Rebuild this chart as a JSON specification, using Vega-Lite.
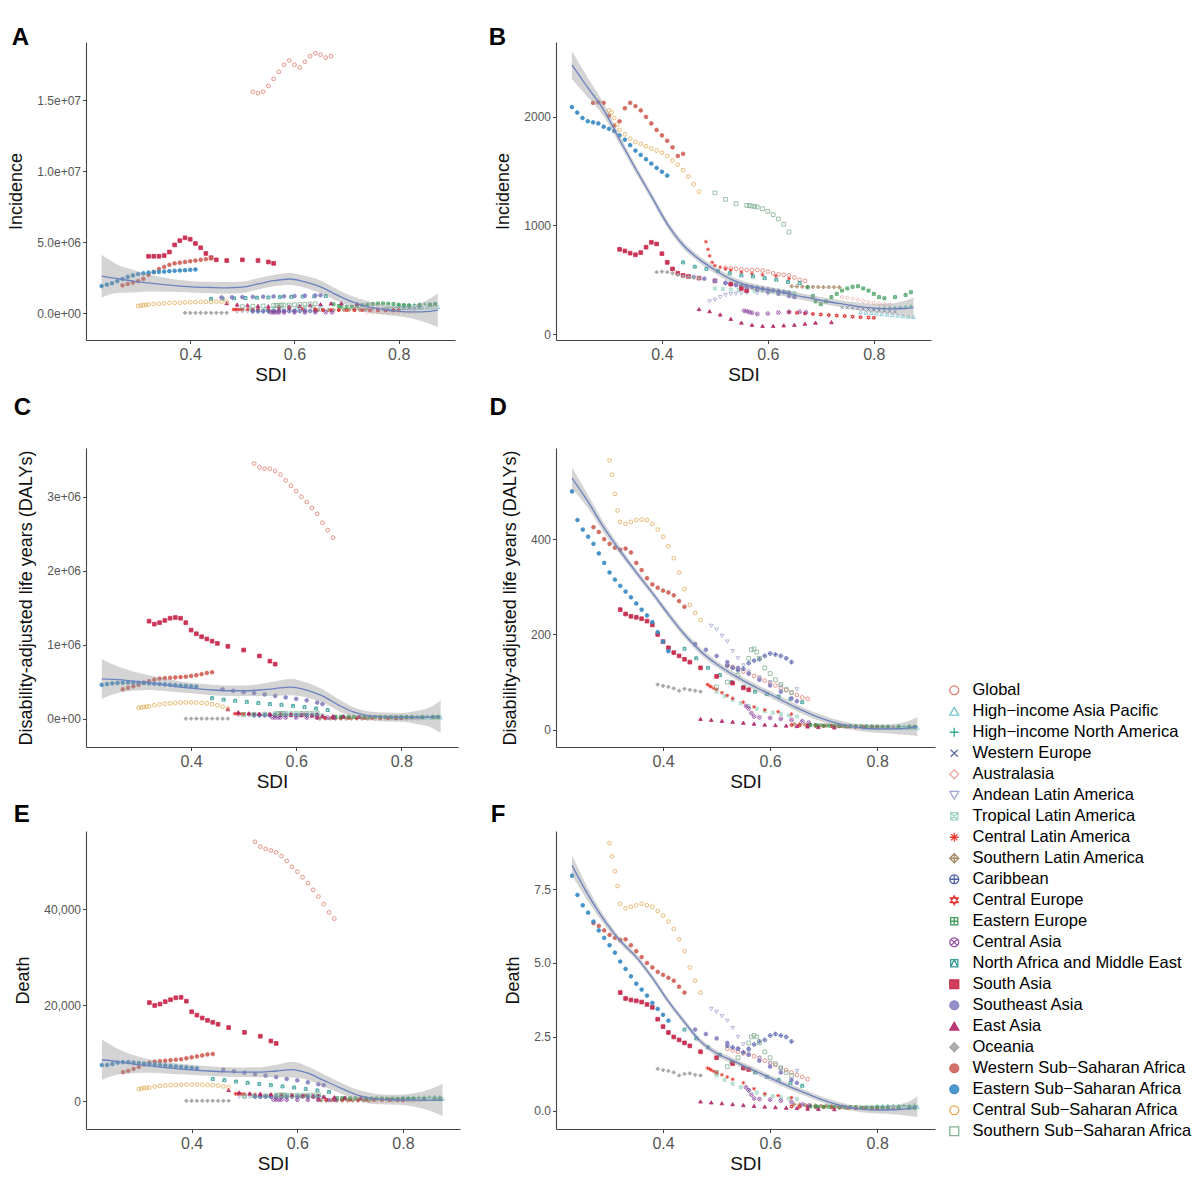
{
"$schema": "https://vega.github.io/schema/vega-lite/v6.json",
"padding": {"left": 7, "top": 26, "right": 5, "bottom": 1},
"background": "white",
"columns": 2,
"align": "each",
"spacing": {"row": 11, "column": 28},
"config": {
  "font": "Liberation Sans",
  "view": {"stroke": null},
  "axis": {"grid": false, "domainColor": "#444444", "domainWidth": 1.1, "tickColor": "#444444", "tickSize": 3.5, "labelColor": "#555555", "titleColor": "#111111", "titleFontWeight": "normal", "labelFont": "Liberation Sans", "titleFont": "Liberation Sans"},
  "axisX": {"labelFontSize": 16, "titlePadding": 3, "labelPadding": 3, "titleFontSize": 19},
  "axisY": {"labelFontSize": 12, "titlePadding": 11, "labelPadding": 2, "titleFontSize": 18},
  "title": {"fontSize": 24, "fontWeight": "bold", "anchor": "start", "frame": "bounds", "color": "#000000", "font": "Liberation Sans"},
  "legend": {"labelFontSize": 16.5, "symbolSize": 80, "symbolStrokeWidth": 1.3, "rowPadding": 4, "labelOffset": 10, "labelColor": "#000000", "labelLimit": 400}
},
"datasets": {
"pts": [
{"r":"Global","s":0.52,"A":15600000,"B":610,"C":3450000,"D":135,"E":54000,"F":2.1},
{"r":"Global","s":0.53,"A":15500000,"B":605,"C":3400000,"D":132,"E":53000,"F":2.05},
{"r":"Global","s":0.54,"A":15600000,"B":600,"C":3380000,"D":128,"E":52500,"F":2.0},
{"r":"Global","s":0.55,"A":16000000,"B":595,"C":3380000,"D":122,"E":52200,"F":1.95},
{"r":"Global","s":0.56,"A":16500000,"B":590,"C":3350000,"D":118,"E":51800,"F":1.9},
{"r":"Global","s":0.57,"A":17000000,"B":590,"C":3300000,"D":113,"E":51000,"F":1.85},
{"r":"Global","s":0.58,"A":17500000,"B":590,"C":3220000,"D":108,"E":50000,"F":1.78},
{"r":"Global","s":0.59,"A":17800000,"B":585,"C":3150000,"D":103,"E":48800,"F":1.7},
{"r":"Global","s":0.60,"A":17500000,"B":575,"C":3080000,"D":98,"E":47800,"F":1.62},
{"r":"Global","s":0.61,"A":17300000,"B":560,"C":3000000,"D":93,"E":46600,"F":1.55},
{"r":"Global","s":0.62,"A":17700000,"B":550,"C":2930000,"D":88,"E":45400,"F":1.45},
{"r":"Global","s":0.63,"A":18100000,"B":545,"C":2850000,"D":83,"E":44000,"F":1.38},
{"r":"Global","s":0.64,"A":18300000,"B":540,"C":2770000,"D":78,"E":42600,"F":1.3},
{"r":"Global","s":0.65,"A":18200000,"B":520,"C":2650000,"D":73,"E":41000,"F":1.22},
{"r":"Global","s":0.66,"A":18000000,"B":500,"C":2550000,"D":68,"E":39300,"F":1.15},
{"r":"Global","s":0.67,"A":18100000,"B":490,"C":2450000,"D":65,"E":38000,"F":1.08},
{"r":"High−income Asia Pacific","s":0.775,"A":330000,"B":200,"C":15000,"D":4.5,"E":250,"F":0.12},
{"r":"High−income Asia Pacific","s":0.785,"A":340000,"B":198,"C":15500,"D":4.4,"E":270,"F":0.12},
{"r":"High−income Asia Pacific","s":0.795,"A":350000,"B":195,"C":16000,"D":4.3,"E":290,"F":0.12},
{"r":"High−income Asia Pacific","s":0.805,"A":360000,"B":190,"C":16500,"D":4.2,"E":310,"F":0.12},
{"r":"High−income Asia Pacific","s":0.815,"A":370000,"B":185,"C":17000,"D":4.1,"E":330,"F":0.12},
{"r":"High−income Asia Pacific","s":0.825,"A":380000,"B":180,"C":17500,"D":4.0,"E":350,"F":0.12},
{"r":"High−income Asia Pacific","s":0.835,"A":390000,"B":175,"C":18000,"D":4.0,"E":370,"F":0.12},
{"r":"High−income Asia Pacific","s":0.845,"A":400000,"B":170,"C":18500,"D":4.1,"E":390,"F":0.13},
{"r":"High−income Asia Pacific","s":0.855,"A":410000,"B":165,"C":19000,"D":4.2,"E":410,"F":0.13},
{"r":"High−income Asia Pacific","s":0.865,"A":420000,"B":160,"C":19500,"D":4.3,"E":430,"F":0.14},
{"r":"High−income Asia Pacific","s":0.875,"A":430000,"B":158,"C":20000,"D":4.5,"E":450,"F":0.14},
{"r":"High−income North America","s":0.80,"A":550000,"B":230,"C":30000,"D":6,"E":700,"F":0.16},
{"r":"High−income North America","s":0.81,"A":570000,"B":235,"C":31000,"D":6.2,"E":720,"F":0.16},
{"r":"High−income North America","s":0.82,"A":580000,"B":238,"C":32000,"D":6.4,"E":740,"F":0.17},
{"r":"High−income North America","s":0.83,"A":600000,"B":240,"C":33000,"D":6.6,"E":760,"F":0.17},
{"r":"High−income North America","s":0.84,"A":620000,"B":242,"C":34000,"D":6.8,"E":780,"F":0.17},
{"r":"High−income North America","s":0.85,"A":630000,"B":245,"C":35000,"D":7,"E":800,"F":0.18},
{"r":"High−income North America","s":0.86,"A":640000,"B":250,"C":36000,"D":7.3,"E":830,"F":0.18},
{"r":"High−income North America","s":0.87,"A":650000,"B":255,"C":37000,"D":7.6,"E":860,"F":0.19},
{"r":"Western Europe","s":0.74,"A":300000,"B":245,"C":22000,"D":6.5,"E":450,"F":0.11},
{"r":"Western Europe","s":0.75,"A":305000,"B":242,"C":21500,"D":6.3,"E":440,"F":0.11},
{"r":"Western Europe","s":0.76,"A":310000,"B":238,"C":21000,"D":6.1,"E":430,"F":0.10},
{"r":"Western Europe","s":0.77,"A":315000,"B":234,"C":20500,"D":5.9,"E":420,"F":0.10},
{"r":"Western Europe","s":0.78,"A":320000,"B":230,"C":20000,"D":5.7,"E":410,"F":0.10},
{"r":"Western Europe","s":0.79,"A":325000,"B":226,"C":19500,"D":5.5,"E":400,"F":0.10},
{"r":"Western Europe","s":0.80,"A":330000,"B":222,"C":19000,"D":5.3,"E":390,"F":0.09},
{"r":"Western Europe","s":0.81,"A":335000,"B":218,"C":18500,"D":5.1,"E":380,"F":0.09},
{"r":"Western Europe","s":0.82,"A":340000,"B":214,"C":18000,"D":4.9,"E":370,"F":0.09},
{"r":"Western Europe","s":0.83,"A":345000,"B":210,"C":17500,"D":4.7,"E":360,"F":0.09},
{"r":"Western Europe","s":0.84,"A":350000,"B":206,"C":17000,"D":4.5,"E":350,"F":0.08},
{"r":"Australasia","s":0.74,"A":48000,"B":340,"C":2500,"D":6.5,"E":45,"F":0.10},
{"r":"Australasia","s":0.75,"A":49000,"B":335,"C":2480,"D":6.4,"E":45,"F":0.10},
{"r":"Australasia","s":0.76,"A":50000,"B":325,"C":2460,"D":6.3,"E":44,"F":0.10},
{"r":"Australasia","s":0.77,"A":51000,"B":315,"C":2440,"D":6.2,"E":44,"F":0.10},
{"r":"Australasia","s":0.78,"A":52000,"B":305,"C":2420,"D":6.1,"E":43,"F":0.10},
{"r":"Australasia","s":0.79,"A":53000,"B":295,"C":2400,"D":6.0,"E":43,"F":0.09},
{"r":"Australasia","s":0.80,"A":54000,"B":288,"C":2380,"D":5.9,"E":42,"F":0.09},
{"r":"Australasia","s":0.81,"A":55000,"B":280,"C":2360,"D":5.8,"E":42,"F":0.09},
{"r":"Australasia","s":0.82,"A":56000,"B":275,"C":2340,"D":5.7,"E":41,"F":0.09},
{"r":"Australasia","s":0.83,"A":57000,"B":270,"C":2320,"D":5.6,"E":41,"F":0.09},
{"r":"Andean Latin America","s":0.49,"A":100000,"B":300,"C":45000,"D":218,"E":900,"F":3.45},
{"r":"Andean Latin America","s":0.50,"A":105000,"B":315,"C":44500,"D":210,"E":880,"F":3.35},
{"r":"Andean Latin America","s":0.51,"A":110000,"B":340,"C":44000,"D":197,"E":860,"F":3.2},
{"r":"Andean Latin America","s":0.52,"A":115000,"B":360,"C":43000,"D":185,"E":840,"F":3.05},
{"r":"Andean Latin America","s":0.53,"A":120000,"B":368,"C":42000,"D":165,"E":820,"F":2.8},
{"r":"Andean Latin America","s":0.54,"A":125000,"B":372,"C":41000,"D":150,"E":800,"F":2.5},
{"r":"Andean Latin America","s":0.55,"A":130000,"B":374,"C":40000,"D":135,"E":780,"F":2.25},
{"r":"Andean Latin America","s":0.56,"A":135000,"B":375,"C":39000,"D":122,"E":760,"F":2.0},
{"r":"Andean Latin America","s":0.58,"A":145000,"B":375,"C":38000,"D":110,"E":740,"F":1.8},
{"r":"Andean Latin America","s":0.60,"A":155000,"B":372,"C":37000,"D":100,"E":720,"F":1.6},
{"r":"Andean Latin America","s":0.62,"A":165000,"B":368,"C":36000,"D":92,"E":700,"F":1.45},
{"r":"Andean Latin America","s":0.65,"A":180000,"B":360,"C":35000,"D":85,"E":680,"F":1.35},
{"r":"Tropical Latin America","s":0.50,"A":250000,"B":420,"C":60000,"D":80,"E":1100,"F":1.2},
{"r":"Tropical Latin America","s":0.515,"A":270000,"B":415,"C":58000,"D":71,"E":1080,"F":1.05},
{"r":"Tropical Latin America","s":0.53,"A":290000,"B":410,"C":56000,"D":63,"E":1060,"F":0.92},
{"r":"Tropical Latin America","s":0.545,"A":310000,"B":405,"C":55000,"D":56,"E":1040,"F":0.8},
{"r":"Tropical Latin America","s":0.56,"A":330000,"B":400,"C":54000,"D":50,"E":1020,"F":0.7},
{"r":"Tropical Latin America","s":0.575,"A":350000,"B":398,"C":53000,"D":44,"E":1000,"F":0.62},
{"r":"Tropical Latin America","s":0.59,"A":370000,"B":395,"C":52000,"D":39,"E":980,"F":0.55},
{"r":"Tropical Latin America","s":0.605,"A":390000,"B":392,"C":51000,"D":36,"E":960,"F":0.5},
{"r":"Tropical Latin America","s":0.62,"A":410000,"B":388,"C":50000,"D":33,"E":940,"F":0.46},
{"r":"Tropical Latin America","s":0.635,"A":430000,"B":384,"C":49000,"D":30,"E":920,"F":0.42},
{"r":"Tropical Latin America","s":0.65,"A":450000,"B":380,"C":48000,"D":28,"E":900,"F":0.4},
{"r":"Central Latin America","s":0.483,"A":250000,"B":850,"C":70000,"D":95,"E":1500,"F":1.45},
{"r":"Central Latin America","s":0.487,"A":252000,"B":780,"C":69500,"D":92,"E":1490,"F":1.42},
{"r":"Central Latin America","s":0.49,"A":254000,"B":720,"C":69000,"D":90,"E":1480,"F":1.38},
{"r":"Central Latin America","s":0.495,"A":256000,"B":660,"C":68500,"D":87,"E":1470,"F":1.34},
{"r":"Central Latin America","s":0.50,"A":258000,"B":630,"C":68000,"D":85,"E":1460,"F":1.3},
{"r":"Central Latin America","s":0.51,"A":260000,"B":615,"C":67000,"D":78,"E":1430,"F":1.22},
{"r":"Central Latin America","s":0.52,"A":262000,"B":600,"C":66000,"D":72,"E":1400,"F":1.15},
{"r":"Central Latin America","s":0.53,"A":264000,"B":590,"C":65000,"D":66,"E":1370,"F":1.07},
{"r":"Central Latin America","s":0.55,"A":268000,"B":570,"C":64000,"D":58,"E":1320,"F":0.95},
{"r":"Central Latin America","s":0.57,"A":272000,"B":555,"C":63000,"D":48,"E":1270,"F":0.75},
{"r":"Central Latin America","s":0.59,"A":276000,"B":545,"C":62000,"D":42,"E":1220,"F":0.58},
{"r":"Central Latin America","s":0.615,"A":280000,"B":535,"C":61000,"D":38,"E":1160,"F":0.52},
{"r":"Central Latin America","s":0.64,"A":285000,"B":510,"C":60000,"D":33,"E":1100,"F":0.45},
{"r":"Southern Latin America","s":0.645,"A":200000,"B":440,"C":5000,"D":12,"E":110,"F":0.22},
{"r":"Southern Latin America","s":0.655,"A":205000,"B":438,"C":5000,"D":11.5,"E":108,"F":0.21},
{"r":"Southern Latin America","s":0.665,"A":210000,"B":436,"C":4900,"D":11,"E":106,"F":0.2},
{"r":"Southern Latin America","s":0.675,"A":215000,"B":435,"C":4900,"D":10.5,"E":104,"F":0.19},
{"r":"Southern Latin America","s":0.685,"A":220000,"B":434,"C":4800,"D":10,"E":102,"F":0.18},
{"r":"Southern Latin America","s":0.695,"A":225000,"B":433,"C":4800,"D":9.5,"E":100,"F":0.17},
{"r":"Southern Latin America","s":0.705,"A":230000,"B":432,"C":4700,"D":9,"E":98,"F":0.17},
{"r":"Southern Latin America","s":0.715,"A":235000,"B":432,"C":4700,"D":8.7,"E":96,"F":0.16},
{"r":"Southern Latin America","s":0.725,"A":240000,"B":431,"C":4600,"D":8.4,"E":94,"F":0.16},
{"r":"Southern Latin America","s":0.735,"A":245000,"B":430,"C":4600,"D":8,"E":92,"F":0.15},
{"r":"Caribbean","s":0.52,"A":120000,"B":470,"C":50000,"D":135,"E":900,"F":2.2},
{"r":"Caribbean","s":0.53,"A":122000,"B":462,"C":50400,"D":130,"E":905,"F":2.15},
{"r":"Caribbean","s":0.54,"A":125000,"B":455,"C":50800,"D":125,"E":910,"F":2.1},
{"r":"Caribbean","s":0.55,"A":127000,"B":447,"C":51200,"D":128,"E":915,"F":1.98},
{"r":"Caribbean","s":0.56,"A":130000,"B":440,"C":51600,"D":140,"E":920,"F":2.1},
{"r":"Caribbean","s":0.57,"A":132000,"B":432,"C":52000,"D":145,"E":925,"F":2.25},
{"r":"Caribbean","s":0.58,"A":135000,"B":425,"C":52400,"D":148,"E":930,"F":2.35},
{"r":"Caribbean","s":0.59,"A":137000,"B":417,"C":52800,"D":155,"E":935,"F":2.4},
{"r":"Caribbean","s":0.60,"A":140000,"B":410,"C":53200,"D":160,"E":940,"F":2.55},
{"r":"Caribbean","s":0.61,"A":142000,"B":402,"C":53600,"D":158,"E":945,"F":2.6},
{"r":"Caribbean","s":0.62,"A":145000,"B":395,"C":54000,"D":155,"E":950,"F":2.55},
{"r":"Caribbean","s":0.63,"A":147000,"B":387,"C":54500,"D":150,"E":950,"F":2.5},
{"r":"Caribbean","s":0.64,"A":150000,"B":380,"C":55000,"D":142,"E":950,"F":2.35},
{"r":"Central Europe","s":0.64,"A":220000,"B":200,"C":15000,"D":10,"E":300,"F":0.15},
{"r":"Central Europe","s":0.655,"A":216000,"B":195,"C":14500,"D":9.5,"E":290,"F":0.145},
{"r":"Central Europe","s":0.67,"A":213000,"B":190,"C":14000,"D":9,"E":280,"F":0.14},
{"r":"Central Europe","s":0.685,"A":210000,"B":185,"C":13600,"D":8.6,"E":272,"F":0.135},
{"r":"Central Europe","s":0.70,"A":206000,"B":180,"C":13200,"D":8.2,"E":264,"F":0.13},
{"r":"Central Europe","s":0.715,"A":203000,"B":175,"C":12800,"D":7.8,"E":256,"F":0.12},
{"r":"Central Europe","s":0.73,"A":200000,"B":170,"C":12400,"D":7.3,"E":248,"F":0.11},
{"r":"Central Europe","s":0.745,"A":196000,"B":165,"C":12000,"D":6.8,"E":240,"F":0.1},
{"r":"Central Europe","s":0.76,"A":192000,"B":160,"C":11600,"D":6.3,"E":230,"F":0.095},
{"r":"Central Europe","s":0.775,"A":188000,"B":155,"C":11000,"D":5.8,"E":220,"F":0.09},
{"r":"Central Europe","s":0.79,"A":184000,"B":152,"C":10500,"D":5.3,"E":210,"F":0.085},
{"r":"Central Europe","s":0.80,"A":180000,"B":150,"C":10000,"D":5,"E":200,"F":0.08},
{"r":"Eastern Europe","s":0.675,"A":620000,"B":430,"C":30000,"D":10,"E":600,"F":0.15},
{"r":"Eastern Europe","s":0.685,"A":500000,"B":350,"C":29500,"D":9.5,"E":590,"F":0.15},
{"r":"Eastern Europe","s":0.69,"A":450000,"B":300,"C":29000,"D":9,"E":580,"F":0.14},
{"r":"Eastern Europe","s":0.70,"A":420000,"B":275,"C":28500,"D":8.8,"E":570,"F":0.14},
{"r":"Eastern Europe","s":0.71,"A":450000,"B":300,"C":28000,"D":8.8,"E":560,"F":0.14},
{"r":"Eastern Europe","s":0.72,"A":500000,"B":340,"C":27500,"D":8.6,"E":550,"F":0.14},
{"r":"Eastern Europe","s":0.73,"A":550000,"B":370,"C":27000,"D":8.4,"E":540,"F":0.13},
{"r":"Eastern Europe","s":0.74,"A":600000,"B":400,"C":26500,"D":8.2,"E":530,"F":0.13},
{"r":"Eastern Europe","s":0.75,"A":640000,"B":420,"C":26000,"D":8,"E":520,"F":0.13},
{"r":"Eastern Europe","s":0.76,"A":670000,"B":435,"C":25500,"D":7.8,"E":510,"F":0.13},
{"r":"Eastern Europe","s":0.77,"A":680000,"B":440,"C":25000,"D":7.6,"E":500,"F":0.12},
{"r":"Eastern Europe","s":0.78,"A":660000,"B":420,"C":24500,"D":7.4,"E":490,"F":0.12},
{"r":"Eastern Europe","s":0.79,"A":630000,"B":400,"C":24000,"D":7.2,"E":480,"F":0.12},
{"r":"Eastern Europe","s":0.80,"A":590000,"B":370,"C":23500,"D":7,"E":470,"F":0.12},
{"r":"Eastern Europe","s":0.81,"A":550000,"B":340,"C":23000,"D":6.8,"E":460,"F":0.11},
{"r":"Eastern Europe","s":0.82,"A":530000,"B":330,"C":22800,"D":6.6,"E":450,"F":0.11},
{"r":"Eastern Europe","s":0.84,"A":550000,"B":340,"C":22500,"D":6.4,"E":430,"F":0.11},
{"r":"Eastern Europe","s":0.86,"A":580000,"B":360,"C":22200,"D":6.2,"E":410,"F":0.1},
{"r":"Eastern Europe","s":0.87,"A":620000,"B":385,"C":22000,"D":6,"E":400,"F":0.1},
{"r":"Central Asia","s":0.555,"A":50000,"B":215,"C":20000,"D":50,"E":300,"F":0.8},
{"r":"Central Asia","s":0.56,"A":50000,"B":210,"C":19500,"D":45,"E":290,"F":0.7},
{"r":"Central Asia","s":0.565,"A":49000,"B":202,"C":19000,"D":35,"E":280,"F":0.55},
{"r":"Central Asia","s":0.57,"A":49000,"B":196,"C":18500,"D":28,"E":270,"F":0.42},
{"r":"Central Asia","s":0.58,"A":48000,"B":185,"C":18000,"D":26,"E":260,"F":0.4},
{"r":"Central Asia","s":0.60,"A":48000,"B":188,"C":17500,"D":25,"E":250,"F":0.38},
{"r":"Central Asia","s":0.62,"A":49000,"B":198,"C":17000,"D":23,"E":240,"F":0.35},
{"r":"Central Asia","s":0.64,"A":50000,"B":205,"C":16500,"D":21,"E":230,"F":0.3},
{"r":"Central Asia","s":0.66,"A":51000,"B":205,"C":16000,"D":18,"E":215,"F":0.22},
{"r":"Central Asia","s":0.672,"A":52000,"B":200,"C":15000,"D":15,"E":200,"F":0.18},
{"r":"North Africa and Middle East","s":0.44,"A":1000000,"B":660,"C":280000,"D":170,"E":4600,"F":2.75},
{"r":"North Africa and Middle East","s":0.462,"A":1020000,"B":620,"C":260000,"D":150,"E":4350,"F":2.45},
{"r":"North Africa and Middle East","s":0.484,"A":1040000,"B":600,"C":245000,"D":130,"E":4050,"F":2.15},
{"r":"North Africa and Middle East","s":0.506,"A":1060000,"B":580,"C":230000,"D":115,"E":3800,"F":1.9},
{"r":"North Africa and Middle East","s":0.528,"A":1080000,"B":560,"C":215000,"D":100,"E":3550,"F":1.65},
{"r":"North Africa and Middle East","s":0.55,"A":1100000,"B":540,"C":200000,"D":90,"E":3300,"F":1.45},
{"r":"North Africa and Middle East","s":0.572,"A":1120000,"B":530,"C":190000,"D":80,"E":3050,"F":1.3},
{"r":"North Africa and Middle East","s":0.594,"A":1140000,"B":515,"C":175000,"D":75,"E":2800,"F":1.15},
{"r":"North Africa and Middle East","s":0.616,"A":1160000,"B":500,"C":160000,"D":70,"E":2500,"F":1.05},
{"r":"North Africa and Middle East","s":0.638,"A":1180000,"B":480,"C":140000,"D":65,"E":2200,"F":0.95},
{"r":"North Africa and Middle East","s":0.66,"A":1200000,"B":470,"C":120000,"D":58,"E":1900,"F":0.85},
{"r":"South Asia","s":0.32,"A":4000000,"B":780,"C":1320000,"D":252,"E":20500,"F":4.0},
{"r":"South Asia","s":0.33,"A":4000000,"B":765,"C":1280000,"D":243,"E":19900,"F":3.8},
{"r":"South Asia","s":0.34,"A":4000000,"B":745,"C":1300000,"D":238,"E":20200,"F":3.75},
{"r":"South Asia","s":0.35,"A":4050000,"B":730,"C":1330000,"D":236,"E":20700,"F":3.72},
{"r":"South Asia","s":0.36,"A":4300000,"B":750,"C":1360000,"D":233,"E":21100,"F":3.68},
{"r":"South Asia","s":0.37,"A":4800000,"B":800,"C":1370000,"D":228,"E":21500,"F":3.6},
{"r":"South Asia","s":0.38,"A":5100000,"B":845,"C":1360000,"D":220,"E":21600,"F":3.5},
{"r":"South Asia","s":0.39,"A":5300000,"B":830,"C":1300000,"D":200,"E":20800,"F":3.1},
{"r":"South Asia","s":0.40,"A":5200000,"B":740,"C":1200000,"D":185,"E":18600,"F":2.85},
{"r":"South Asia","s":0.41,"A":4900000,"B":660,"C":1150000,"D":172,"E":17900,"F":2.65},
{"r":"South Asia","s":0.42,"A":4600000,"B":600,"C":1110000,"D":162,"E":17300,"F":2.5},
{"r":"South Asia","s":0.43,"A":4200000,"B":560,"C":1080000,"D":155,"E":16800,"F":2.4},
{"r":"South Asia","s":0.44,"A":3900000,"B":540,"C":1050000,"D":148,"E":16400,"F":2.3},
{"r":"South Asia","s":0.45,"A":3750000,"B":530,"C":1020000,"D":142,"E":16000,"F":2.2},
{"r":"South Asia","s":0.47,"A":3700000,"B":515,"C":980000,"D":130,"E":15300,"F":2.0},
{"r":"South Asia","s":0.50,"A":3750000,"B":490,"C":930000,"D":112,"E":14300,"F":1.8},
{"r":"South Asia","s":0.53,"A":3700000,"B":460,"C":850000,"D":98,"E":13500,"F":1.6},
{"r":"South Asia","s":0.55,"A":3600000,"B":420,"C":780000,"D":88,"E":12500,"F":1.45},
{"r":"South Asia","s":0.56,"A":3500000,"B":400,"C":740000,"D":84,"E":12000,"F":1.4},
{"r":"Southeast Asia","s":0.46,"A":1100000,"B":525,"C":400000,"D":180,"E":6500,"F":2.75},
{"r":"Southeast Asia","s":0.48,"A":1110000,"B":510,"C":380000,"D":168,"E":6200,"F":2.6},
{"r":"Southeast Asia","s":0.50,"A":1120000,"B":490,"C":360000,"D":155,"E":5900,"F":2.45},
{"r":"Southeast Asia","s":0.52,"A":1140000,"B":470,"C":350000,"D":142,"E":5600,"F":2.3},
{"r":"Southeast Asia","s":0.54,"A":1150000,"B":450,"C":330000,"D":130,"E":5300,"F":2.1},
{"r":"Southeast Asia","s":0.56,"A":1170000,"B":430,"C":310000,"D":118,"E":5000,"F":1.9},
{"r":"Southeast Asia","s":0.58,"A":1180000,"B":410,"C":290000,"D":105,"E":4600,"F":1.7},
{"r":"Southeast Asia","s":0.60,"A":1200000,"B":390,"C":270000,"D":93,"E":4300,"F":1.5},
{"r":"Southeast Asia","s":0.62,"A":1220000,"B":370,"C":250000,"D":80,"E":3900,"F":1.3},
{"r":"Southeast Asia","s":0.64,"A":1240000,"B":350,"C":220000,"D":66,"E":3500,"F":1.05},
{"r":"Southeast Asia","s":0.65,"A":1250000,"B":340,"C":200000,"D":60,"E":3300,"F":0.95},
{"r":"East Asia","s":0.47,"A":700000,"B":230,"C":130000,"D":23,"E":2300,"F":0.32},
{"r":"East Asia","s":0.49,"A":600000,"B":210,"C":90000,"D":21,"E":1800,"F":0.29},
{"r":"East Asia","s":0.51,"A":550000,"B":180,"C":75000,"D":19,"E":1600,"F":0.26},
{"r":"East Asia","s":0.53,"A":500000,"B":140,"C":70000,"D":17,"E":1500,"F":0.23},
{"r":"East Asia","s":0.55,"A":480000,"B":105,"C":65000,"D":15,"E":1400,"F":0.2},
{"r":"East Asia","s":0.57,"A":470000,"B":85,"C":60000,"D":13,"E":1300,"F":0.17},
{"r":"East Asia","s":0.59,"A":470000,"B":75,"C":55000,"D":11,"E":1200,"F":0.15},
{"r":"East Asia","s":0.61,"A":500000,"B":75,"C":50000,"D":10,"E":1100,"F":0.13},
{"r":"East Asia","s":0.63,"A":550000,"B":80,"C":45000,"D":9,"E":1000,"F":0.11},
{"r":"East Asia","s":0.65,"A":620000,"B":85,"C":40000,"D":8,"E":900,"F":0.1},
{"r":"East Asia","s":0.67,"A":680000,"B":95,"C":40000,"D":7,"E":800,"F":0.08},
{"r":"East Asia","s":0.69,"A":700000,"B":105,"C":35000,"D":6,"E":700,"F":0.07},
{"r":"East Asia","s":0.72,"A":650000,"B":110,"C":30000,"D":5,"E":600,"F":0.06},
{"r":"Oceania","s":0.39,"A":10000,"B":570,"C":3000,"D":95,"E":50,"F":1.42},
{"r":"Oceania","s":0.40,"A":10500,"B":575,"C":3000,"D":92,"E":49,"F":1.38},
{"r":"Oceania","s":0.41,"A":11000,"B":570,"C":3000,"D":90,"E":48,"F":1.35},
{"r":"Oceania","s":0.42,"A":11500,"B":560,"C":3000,"D":87,"E":47,"F":1.3},
{"r":"Oceania","s":0.43,"A":12000,"B":545,"C":2900,"D":82,"E":45,"F":1.2},
{"r":"Oceania","s":0.44,"A":12500,"B":530,"C":3000,"D":86,"E":46,"F":1.25},
{"r":"Oceania","s":0.45,"A":13000,"B":525,"C":3000,"D":84,"E":46,"F":1.27},
{"r":"Oceania","s":0.46,"A":13500,"B":520,"C":3000,"D":82,"E":45,"F":1.22},
{"r":"Oceania","s":0.47,"A":14000,"B":515,"C":3000,"D":80,"E":45,"F":1.2},
{"r":"Western Sub−Saharan Africa","s":0.27,"A":1950000,"B":2130,"C":400000,"D":425,"E":6000,"F":6.35},
{"r":"Western Sub−Saharan Africa","s":0.28,"A":2050000,"B":2135,"C":420000,"D":415,"E":6300,"F":6.25},
{"r":"Western Sub−Saharan Africa","s":0.29,"A":2150000,"B":2130,"C":440000,"D":400,"E":6700,"F":6.1},
{"r":"Western Sub−Saharan Africa","s":0.30,"A":2250000,"B":2010,"C":460000,"D":390,"E":7100,"F":5.95},
{"r":"Western Sub−Saharan Africa","s":0.31,"A":2400000,"B":1920,"C":490000,"D":382,"E":7600,"F":5.85},
{"r":"Western Sub−Saharan Africa","s":0.32,"A":2700000,"B":1960,"C":510000,"D":378,"E":8000,"F":5.78},
{"r":"Western Sub−Saharan Africa","s":0.33,"A":2900000,"B":2080,"C":530000,"D":380,"E":8200,"F":5.8},
{"r":"Western Sub−Saharan Africa","s":0.34,"A":3100000,"B":2130,"C":545000,"D":372,"E":8300,"F":5.6},
{"r":"Western Sub−Saharan Africa","s":0.35,"A":3250000,"B":2100,"C":550000,"D":350,"E":8400,"F":5.4},
{"r":"Western Sub−Saharan Africa","s":0.36,"A":3400000,"B":2060,"C":555000,"D":335,"E":8500,"F":5.2},
{"r":"Western Sub−Saharan Africa","s":0.37,"A":3500000,"B":2000,"C":560000,"D":318,"E":8600,"F":5.0},
{"r":"Western Sub−Saharan Africa","s":0.38,"A":3550000,"B":1940,"C":565000,"D":305,"E":8700,"F":4.85},
{"r":"Western Sub−Saharan Africa","s":0.39,"A":3600000,"B":1880,"C":570000,"D":298,"E":8900,"F":4.7},
{"r":"Western Sub−Saharan Africa","s":0.40,"A":3650000,"B":1830,"C":580000,"D":292,"E":9100,"F":4.6},
{"r":"Western Sub−Saharan Africa","s":0.41,"A":3700000,"B":1780,"C":590000,"D":288,"E":9300,"F":4.5},
{"r":"Western Sub−Saharan Africa","s":0.42,"A":3750000,"B":1720,"C":605000,"D":282,"E":9500,"F":4.4},
{"r":"Western Sub−Saharan Africa","s":0.43,"A":3800000,"B":1640,"C":620000,"D":270,"E":9700,"F":4.2},
{"r":"Western Sub−Saharan Africa","s":0.44,"A":3850000,"B":1660,"C":630000,"D":258,"E":9800,"F":4.0},
{"r":"Eastern Sub−Saharan Africa","s":0.23,"A":1900000,"B":2090,"C":460000,"D":500,"E":7500,"F":7.95},
{"r":"Eastern Sub−Saharan Africa","s":0.24,"A":2000000,"B":2040,"C":470000,"D":440,"E":7500,"F":7.3},
{"r":"Eastern Sub−Saharan Africa","s":0.25,"A":2100000,"B":1990,"C":480000,"D":420,"E":7700,"F":6.95},
{"r":"Eastern Sub−Saharan Africa","s":0.26,"A":2250000,"B":1960,"C":485000,"D":405,"E":8000,"F":6.7},
{"r":"Eastern Sub−Saharan Africa","s":0.27,"A":2400000,"B":1950,"C":490000,"D":390,"E":8100,"F":6.4},
{"r":"Eastern Sub−Saharan Africa","s":0.28,"A":2550000,"B":1940,"C":490000,"D":370,"E":8100,"F":6.1},
{"r":"Eastern Sub−Saharan Africa","s":0.29,"A":2650000,"B":1910,"C":490000,"D":350,"E":8000,"F":5.85},
{"r":"Eastern Sub−Saharan Africa","s":0.30,"A":2750000,"B":1890,"C":488000,"D":330,"E":7900,"F":5.6},
{"r":"Eastern Sub−Saharan Africa","s":0.31,"A":2800000,"B":1870,"C":485000,"D":315,"E":7800,"F":5.35},
{"r":"Eastern Sub−Saharan Africa","s":0.32,"A":2850000,"B":1830,"C":480000,"D":302,"E":7700,"F":5.05},
{"r":"Eastern Sub−Saharan Africa","s":0.33,"A":2880000,"B":1790,"C":475000,"D":290,"E":7600,"F":4.8},
{"r":"Eastern Sub−Saharan Africa","s":0.34,"A":2900000,"B":1740,"C":470000,"D":278,"E":7500,"F":4.55},
{"r":"Eastern Sub−Saharan Africa","s":0.35,"A":2920000,"B":1690,"C":465000,"D":265,"E":7400,"F":4.3},
{"r":"Eastern Sub−Saharan Africa","s":0.36,"A":2950000,"B":1650,"C":460000,"D":252,"E":7300,"F":4.1},
{"r":"Eastern Sub−Saharan Africa","s":0.37,"A":2980000,"B":1610,"C":455000,"D":240,"E":7200,"F":3.9},
{"r":"Eastern Sub−Saharan Africa","s":0.38,"A":3000000,"B":1570,"C":450000,"D":226,"E":7100,"F":3.65},
{"r":"Eastern Sub−Saharan Africa","s":0.39,"A":3020000,"B":1530,"C":445000,"D":205,"E":7000,"F":3.45},
{"r":"Eastern Sub−Saharan Africa","s":0.40,"A":3050000,"B":1495,"C":440000,"D":185,"E":6900,"F":3.25},
{"r":"Eastern Sub−Saharan Africa","s":0.41,"A":3070000,"B":1460,"C":435000,"D":165,"E":6800,"F":3.05},
{"r":"Central Sub−Saharan Africa","s":0.30,"A":500000,"B":2060,"C":150000,"D":565,"E":2500,"F":9.05},
{"r":"Central Sub−Saharan Africa","s":0.305,"A":530000,"B":2040,"C":155000,"D":535,"E":2600,"F":8.6},
{"r":"Central Sub−Saharan Africa","s":0.31,"A":550000,"B":1990,"C":160000,"D":495,"E":2700,"F":8.1},
{"r":"Central Sub−Saharan Africa","s":0.315,"A":570000,"B":1930,"C":165000,"D":460,"E":2750,"F":7.6},
{"r":"Central Sub−Saharan Africa","s":0.32,"A":600000,"B":1880,"C":170000,"D":436,"E":2800,"F":7.0},
{"r":"Central Sub−Saharan Africa","s":0.33,"A":630000,"B":1840,"C":185000,"D":432,"E":3000,"F":6.85},
{"r":"Central Sub−Saharan Africa","s":0.34,"A":660000,"B":1800,"C":195000,"D":436,"E":3150,"F":6.9},
{"r":"Central Sub−Saharan Africa","s":0.35,"A":680000,"B":1770,"C":205000,"D":440,"E":3250,"F":6.95},
{"r":"Central Sub−Saharan Africa","s":0.36,"A":700000,"B":1750,"C":210000,"D":441,"E":3300,"F":7.0},
{"r":"Central Sub−Saharan Africa","s":0.37,"A":720000,"B":1730,"C":215000,"D":440,"E":3350,"F":6.95},
{"r":"Central Sub−Saharan Africa","s":0.38,"A":730000,"B":1710,"C":220000,"D":432,"E":3400,"F":6.9},
{"r":"Central Sub−Saharan Africa","s":0.39,"A":750000,"B":1690,"C":222000,"D":420,"E":3400,"F":6.75},
{"r":"Central Sub−Saharan Africa","s":0.40,"A":760000,"B":1670,"C":222000,"D":405,"E":3420,"F":6.6},
{"r":"Central Sub−Saharan Africa","s":0.41,"A":770000,"B":1640,"C":220000,"D":385,"E":3420,"F":6.4},
{"r":"Central Sub−Saharan Africa","s":0.42,"A":780000,"B":1600,"C":215000,"D":360,"E":3400,"F":6.15},
{"r":"Central Sub−Saharan Africa","s":0.43,"A":790000,"B":1560,"C":210000,"D":330,"E":3350,"F":5.8},
{"r":"Central Sub−Saharan Africa","s":0.44,"A":790000,"B":1510,"C":200000,"D":295,"E":3300,"F":5.4},
{"r":"Central Sub−Saharan Africa","s":0.45,"A":800000,"B":1450,"C":185000,"D":262,"E":3200,"F":4.85},
{"r":"Central Sub−Saharan Africa","s":0.46,"A":800000,"B":1380,"C":165000,"D":245,"E":3050,"F":4.4},
{"r":"Central Sub−Saharan Africa","s":0.47,"A":800000,"B":1310,"C":140000,"D":230,"E":2850,"F":4.0},
{"r":"Southern Sub−Saharan Africa","s":0.50,"A":450000,"B":1300,"C":60000,"D":90,"E":1000,"F":1.3},
{"r":"Southern Sub−Saharan Africa","s":0.52,"A":480000,"B":1240,"C":62000,"D":100,"E":1050,"F":1.5},
{"r":"Southern Sub−Saharan Africa","s":0.54,"A":500000,"B":1200,"C":65000,"D":115,"E":1100,"F":1.8},
{"r":"Southern Sub−Saharan Africa","s":0.56,"A":530000,"B":1185,"C":70000,"D":150,"E":1200,"F":2.3},
{"r":"Southern Sub−Saharan Africa","s":0.565,"A":540000,"B":1182,"C":72000,"D":168,"E":1250,"F":2.5},
{"r":"Southern Sub−Saharan Africa","s":0.57,"A":550000,"B":1178,"C":73000,"D":170,"E":1260,"F":2.55},
{"r":"Southern Sub−Saharan Africa","s":0.575,"A":555000,"B":1175,"C":73000,"D":163,"E":1250,"F":2.5},
{"r":"Southern Sub−Saharan Africa","s":0.58,"A":560000,"B":1170,"C":72000,"D":150,"E":1230,"F":2.3},
{"r":"Southern Sub−Saharan Africa","s":0.59,"A":570000,"B":1155,"C":71000,"D":130,"E":1200,"F":2.0},
{"r":"Southern Sub−Saharan Africa","s":0.60,"A":580000,"B":1130,"C":72000,"D":118,"E":1210,"F":1.8},
{"r":"Southern Sub−Saharan Africa","s":0.61,"A":600000,"B":1100,"C":74000,"D":105,"E":1230,"F":1.6},
{"r":"Southern Sub−Saharan Africa","s":0.62,"A":620000,"B":1060,"C":76000,"D":95,"E":1250,"F":1.45},
{"r":"Southern Sub−Saharan Africa","s":0.63,"A":630000,"B":1010,"C":78000,"D":85,"E":1280,"F":1.3},
{"r":"Southern Sub−Saharan Africa","s":0.64,"A":650000,"B":940,"C":80000,"D":78,"E":1300,"F":1.2}
],
"sm": [
{"s":0.23,"Ay":2600000,"Al":1100000,"Ah":4100000,"By":2480,"Bl":2350,"Bh":2610,"Cy":540000,"Cl":270000,"Ch":810000,"Dy":528,"Dl":506,"Dh":550,"Ey":8600,"El":4400,"Eh":12800,"Fy":8.3,"Fl":7.95,"Fh":8.65},
{"s":0.26,"Ay":2420000,"Al":1420000,"Ah":3420000,"By":2270,"Bl":2180,"Bh":2360,"Cy":530000,"Cl":350000,"Ch":710000,"Dy":478,"Dl":464,"Dh":492,"Ey":8200,"El":5500,"Eh":10900,"Fy":7.3,"Fl":7.08,"Fh":7.52},
{"s":0.29,"Ay":2250000,"Al":1450000,"Ah":3050000,"By":2065,"Bl":2005,"Bh":2125,"Cy":510000,"Cl":380000,"Ch":640000,"Dy":423,"Dl":413,"Dh":433,"Ey":7700,"El":5800,"Eh":9600,"Fy":6.45,"Fl":6.3,"Fh":6.6},
{"s":0.32,"Ay":2120000,"Al":1520000,"Ah":2720000,"By":1790,"Bl":1748,"Bh":1832,"Cy":490000,"Cl":390000,"Ch":590000,"Dy":375,"Dl":367,"Dh":383,"Ey":7300,"El":5900,"Eh":8700,"Fy":5.75,"Fl":5.64,"Fh":5.86},
{"s":0.35,"Ay":2000000,"Al":1500000,"Ah":2500000,"By":1525,"Bl":1489,"Bh":1561,"Cy":460000,"Cl":375000,"Ch":545000,"Dy":330,"Dl":323,"Dh":337,"Ey":6950,"El":5750,"Eh":8150,"Fy":5.2,"Fl":5.1,"Fh":5.3},
{"s":0.38,"Ay":1900000,"Al":1480000,"Ah":2320000,"By":1270,"Bl":1236,"Bh":1304,"Cy":430000,"Cl":355000,"Ch":505000,"Dy":287,"Dl":280,"Dh":294,"Ey":6650,"El":5550,"Eh":7750,"Fy":4.5,"Fl":4.4,"Fh":4.6},
{"s":0.41,"Ay":1830000,"Al":1430000,"Ah":2230000,"By":1015,"Bl":981,"Bh":1049,"Cy":410000,"Cl":340000,"Ch":480000,"Dy":242,"Dl":235,"Dh":249,"Ey":6400,"El":5350,"Eh":7450,"Fy":3.7,"Fl":3.6,"Fh":3.8},
{"s":0.44,"Ay":1800000,"Al":1400000,"Ah":2200000,"By":820,"Bl":788,"Bh":852,"Cy":390000,"Cl":320000,"Ch":460000,"Dy":200,"Dl":193,"Dh":207,"Ey":6200,"El":5200,"Eh":7200,"Fy":3.0,"Fl":2.9,"Fh":3.1},
{"s":0.47,"Ay":1780000,"Al":1380000,"Ah":2180000,"By":690,"Bl":660,"Bh":720,"Cy":380000,"Cl":310000,"Ch":450000,"Dy":165,"Dl":158,"Dh":172,"Ey":6050,"El":5050,"Eh":7050,"Fy":2.35,"Fl":2.25,"Fh":2.45},
{"s":0.50,"Ay":1820000,"Al":1420000,"Ah":2220000,"By":590,"Bl":560,"Bh":620,"Cy":380000,"Cl":310000,"Ch":450000,"Dy":138,"Dl":131,"Dh":145,"Ey":6000,"El":5000,"Eh":7000,"Fy":1.95,"Fl":1.85,"Fh":2.05},
{"s":0.53,"Ay":2050000,"Al":1650000,"Ah":2450000,"By":505,"Bl":475,"Bh":535,"Cy":390000,"Cl":310000,"Ch":470000,"Dy":116,"Dl":109,"Dh":123,"Ey":6000,"El":4950,"Eh":7050,"Fy":1.7,"Fl":1.6,"Fh":1.8},
{"s":0.56,"Ay":2280000,"Al":1880000,"Ah":2680000,"By":450,"Bl":420,"Bh":480,"Cy":410000,"Cl":310000,"Ch":510000,"Dy":97,"Dl":90,"Dh":104,"Ey":6250,"El":4950,"Eh":7550,"Fy":1.45,"Fl":1.35,"Fh":1.55},
{"s":0.59,"Ay":2400000,"Al":1980000,"Ah":2820000,"By":418,"Bl":388,"Bh":448,"Cy":430000,"Cl":320000,"Ch":540000,"Dy":80,"Dl":73,"Dh":87,"Ey":6550,"El":4900,"Eh":8200,"Fy":1.2,"Fl":1.1,"Fh":1.3},
{"s":0.62,"Ay":2200000,"Al":1780000,"Ah":2620000,"By":390,"Bl":360,"Bh":420,"Cy":390000,"Cl":290000,"Ch":490000,"Dy":63,"Dl":56,"Dh":70,"Ey":5800,"El":4400,"Eh":7200,"Fy":0.95,"Fl":0.85,"Fh":1.05},
{"s":0.65,"Ay":1850000,"Al":1400000,"Ah":2300000,"By":358,"Bl":328,"Bh":388,"Cy":310000,"Cl":220000,"Ch":400000,"Dy":46,"Dl":39,"Dh":53,"Ey":4300,"El":3000,"Eh":5600,"Fy":0.72,"Fl":0.62,"Fh":0.82},
{"s":0.68,"Ay":1300000,"Al":880000,"Ah":1720000,"By":330,"Bl":300,"Bh":360,"Cy":190000,"Cl":110000,"Ch":270000,"Dy":31,"Dl":24,"Dh":38,"Ey":2800,"El":1650,"Eh":3950,"Fy":0.5,"Fl":0.4,"Fh":0.6},
{"s":0.71,"Ay":800000,"Al":400000,"Ah":1200000,"By":302,"Bl":272,"Bh":332,"Cy":90000,"Cl":25000,"Ch":155000,"Dy":19,"Dl":12,"Dh":26,"Ey":1400,"El":300,"Eh":2500,"Fy":0.3,"Fl":0.2,"Fh":0.4},
{"s":0.74,"Ay":450000,"Al":50000,"Ah":850000,"By":278,"Bl":246,"Bh":310,"Cy":40000,"Cl":-20000,"Ch":100000,"Dy":10,"Dl":3,"Dh":17,"Ey":550,"El":-550,"Eh":1650,"Fy":0.15,"Fl":0.05,"Fh":0.25},
{"s":0.77,"Ay":250000,"Al":-100000,"Ah":600000,"By":255,"Bl":220,"Bh":290,"Cy":25000,"Cl":-35000,"Ch":85000,"Dy":4,"Dl":-3,"Dh":11,"Ey":300,"El":-700,"Eh":1300,"Fy":0.06,"Fl":-0.04,"Fh":0.16},
{"s":0.80,"Ay":120000,"Al":-230000,"Ah":470000,"By":238,"Bl":198,"Bh":278,"Cy":20000,"Cl":-40000,"Ch":80000,"Dy":2,"Dl":-6,"Dh":10,"Ey":250,"El":-850,"Eh":1350,"Fy":0.03,"Fl":-0.09,"Fh":0.15},
{"s":0.83,"Ay":80000,"Al":-420000,"Ah":580000,"By":232,"Bl":182,"Bh":282,"Cy":20000,"Cl":-70000,"Ch":110000,"Dy":2,"Dl":-8,"Dh":12,"Ey":200,"El":-1400,"Eh":1800,"Fy":0.04,"Fl":-0.11,"Fh":0.19},
{"s":0.86,"Ay":120000,"Al":-780000,"Ah":1020000,"By":235,"Bl":160,"Bh":310,"Cy":25000,"Cl":-125000,"Ch":175000,"Dy":4,"Dl":-11,"Dh":19,"Ey":200,"El":-2400,"Eh":2800,"Fy":0.08,"Fl":-0.17,"Fh":0.33},
{"s":0.875,"Ay":200000,"Al":-1000000,"Ah":1400000,"By":240,"Bl":145,"Bh":335,"Cy":30000,"Cl":-190000,"Ch":250000,"Dy":7,"Dl":-13,"Dh":27,"Ey":250,"El":-3150,"Eh":3650,"Fy":0.15,"Fl":-0.2,"Fh":0.5}
]
},
"concat": [
{
 "width": 369, "height": 298,
 "title": {"text": "A", "offset": -8, "dx": 4},
 "layer": [
  {"data": {"name": "pts"},
   "mark": {"type": "point", "size": 14, "strokeWidth": 0.8, "opacity": 0.95, "clip": true},
   "encoding": {
    "x": {"field": "s", "type": "quantitative", "scale": {"domain": [0.2, 0.908], "nice": false, "zero": false}, "title": "SDI", "axis": {"values": [0.4, 0.6, 0.8], "format": ".1f"}},
    "y": {"field": "A", "type": "quantitative", "scale": {"domain": [-1900000, 19100000], "nice": false, "zero": false}, "title": "Incidence", "axis": {"values": [0, 5000000, 10000000, 15000000], "labelExpr": "replace(format(datum.value, '.1e'), 'e+', 'e+0')"}},
    "stroke": {"field": "r", "type": "nominal",
      "scale": {"domain": ["Global","High−income Asia Pacific","High−income North America","Western Europe","Australasia","Andean Latin America","Tropical Latin America","Central Latin America","Southern Latin America","Caribbean","Central Europe","Eastern Europe","Central Asia","North Africa and Middle East","South Asia","Southeast Asia","East Asia","Oceania","Western Sub−Saharan Africa","Eastern Sub−Saharan Africa","Central Sub−Saharan Africa","Southern Sub−Saharan Africa"],
        "range": ["#df7468","#6fc1cf","#26a583","#56679c","#f0a49c","#9ea5cf","#9bd3c2","#e8312b","#a3845f","#4a59a6","#df2a2a","#3a9957","#8c3f9c","#2c9894","#c9294c","#8984c5","#b3286a","#a3a3a3","#d0645a","#3a8dc6","#e2a64c","#7fae90"]},
      "legend": {"title": null, "orient": "none", "legendX": 860, "legendY": 640}},
    "fill": {"field": "r", "type": "nominal",
      "scale": {"domain": ["Global","High−income Asia Pacific","High−income North America","Western Europe","Australasia","Andean Latin America","Tropical Latin America","Central Latin America","Southern Latin America","Caribbean","Central Europe","Eastern Europe","Central Asia","North Africa and Middle East","South Asia","Southeast Asia","East Asia","Oceania","Western Sub−Saharan Africa","Eastern Sub−Saharan Africa","Central Sub−Saharan Africa","Southern Sub−Saharan Africa"],
        "range": ["transparent","transparent","transparent","transparent","transparent","transparent","transparent","transparent","transparent","transparent","transparent","transparent","transparent","transparent","#c9294c","#8984c5","#b3286a","#a3a3a3","#d0645a","#3a8dc6","transparent","transparent"]},
      "legend": {"title": null, "orient": "none", "legendX": 860, "legendY": 640}},
    "shape": {"field": "r", "type": "nominal",
      "scale": {"domain": ["Global","High−income Asia Pacific","High−income North America","Western Europe","Australasia","Andean Latin America","Tropical Latin America","Central Latin America","Southern Latin America","Caribbean","Central Europe","Eastern Europe","Central Asia","North Africa and Middle East","South Asia","Southeast Asia","East Asia","Oceania","Western Sub−Saharan Africa","Eastern Sub−Saharan Africa","Central Sub−Saharan Africa","Southern Sub−Saharan Africa"],
        "range": ["circle","triangle-up","M-1,0L1,0M0,-1L0,1","M-0.8,-0.8L0.8,0.8M-0.8,0.8L0.8,-0.8","diamond","triangle-down","M-0.8,-0.8H0.8V0.8H-0.8ZM-0.8,-0.8L0.8,0.8M-0.8,0.8L0.8,-0.8","M-1,0L1,0M0,-1L0,1M-0.7,-0.7L0.7,0.7M-0.7,0.7L0.7,-0.7","M0,-1L1,0L0,1L-1,0ZM-1,0L1,0M0,-1L0,1","M-1,0A1,1 0 1,0 1,0A1,1 0 1,0 -1,0M-1,0L1,0M0,-1L0,1","M0,-1L0.87,0.5L-0.87,0.5ZM0,1L0.87,-0.5L-0.87,-0.5Z","M-0.8,-0.8H0.8V0.8H-0.8ZM-0.8,0L0.8,0M0,-0.8L0,0.8","M-1,0A1,1 0 1,0 1,0A1,1 0 1,0 -1,0M-0.7,-0.7L0.7,0.7M-0.7,0.7L0.7,-0.7","M-0.8,-0.8H0.8V0.8H-0.8ZM-0.8,0.8L0,-0.8L0.8,0.8","square","circle","triangle-up","diamond","circle","circle","circle","square"]},
      "legend": {"title": null, "orient": "none", "legendX": 860, "legendY": 640}}
   }},
  {"data": {"name": "sm"}, "mark": {"type": "area", "interpolate": "monotone", "color": "#999999", "opacity": 0.42, "clip": true},
   "encoding": {"x": {"field": "s", "type": "quantitative", "scale": {"domain": [0.2, 0.908], "nice": false, "zero": false}, "title": "SDI"},
    "y": {"field": "Al", "type": "quantitative", "scale": {"domain": [-1900000, 19100000], "nice": false, "zero": false}, "title": "Incidence"}, "y2": {"field": "Ah"}}},
  {"data": {"name": "sm"}, "mark": {"type": "line", "interpolate": "monotone", "color": "#6b82c0", "strokeWidth": 1.3, "clip": true},
   "encoding": {"x": {"field": "s", "type": "quantitative", "scale": {"domain": [0.2, 0.908], "nice": false, "zero": false}, "title": "SDI"},
    "y": {"field": "Ay", "type": "quantitative", "scale": {"domain": [-1900000, 19100000], "nice": false, "zero": false}, "title": "Incidence"}}}
 ]
},
{
 "width": 375, "height": 298,
 "title": {"text": "B", "offset": -8, "dx": -6},
 "layer": [
  {"data": {"name": "pts"},
   "mark": {"type": "point", "size": 14, "strokeWidth": 0.8, "opacity": 0.95, "clip": true},
   "encoding": {
    "x": {"field": "s", "type": "quantitative", "scale": {"domain": [0.2, 0.908], "nice": false, "zero": false}, "title": "SDI", "axis": {"values": [0.4, 0.6, 0.8], "format": ".1f"}},
    "y": {"field": "B", "type": "quantitative", "scale": {"domain": [-55, 2690], "nice": false, "zero": false}, "title": "Incidence", "axis": {"values": [0, 1000, 2000], "format": "d"}},
    "stroke": {"field": "r", "type": "nominal"},
    "fill": {"field": "r", "type": "nominal"},
    "shape": {"field": "r", "type": "nominal"}
   }},
  {"data": {"name": "sm"}, "mark": {"type": "area", "interpolate": "monotone", "color": "#999999", "opacity": 0.42, "clip": true},
   "encoding": {"x": {"field": "s", "type": "quantitative", "scale": {"domain": [0.2, 0.908], "nice": false, "zero": false}, "title": "SDI"},
    "y": {"field": "Bl", "type": "quantitative", "scale": {"domain": [-55, 2690], "nice": false, "zero": false}, "title": "Incidence"}, "y2": {"field": "Bh"}}},
  {"data": {"name": "sm"}, "mark": {"type": "line", "interpolate": "monotone", "color": "#6b82c0", "strokeWidth": 1.3, "clip": true},
   "encoding": {"x": {"field": "s", "type": "quantitative", "scale": {"domain": [0.2, 0.908], "nice": false, "zero": false}, "title": "SDI"},
    "y": {"field": "By", "type": "quantitative", "scale": {"domain": [-55, 2690], "nice": false, "zero": false}, "title": "Incidence"}}}
 ]
},
{
 "width": 372, "height": 299,
 "title": {"text": "C", "offset": 28, "dx": -4},
 "layer": [
  {"data": {"name": "pts"},
   "mark": {"type": "point", "size": 14, "strokeWidth": 0.8, "opacity": 0.95, "clip": true},
   "encoding": {
    "x": {"field": "s", "type": "quantitative", "scale": {"domain": [0.2, 0.908], "nice": false, "zero": false}, "title": "SDI", "axis": {"values": [0.4, 0.6, 0.8], "format": ".1f"}},
    "y": {"field": "C", "type": "quantitative", "scale": {"domain": [-380000, 3660000], "nice": false, "zero": false}, "title": "Disability-adjusted life years (DALYs)", "axis": {"values": [0, 1000000, 2000000, 3000000], "labelExpr": "replace(format(datum.value, '.0e'), 'e+', 'e+0')"}},
    "stroke": {"field": "r", "type": "nominal"},
    "fill": {"field": "r", "type": "nominal"},
    "shape": {"field": "r", "type": "nominal"}
   }},
  {"data": {"name": "sm"}, "mark": {"type": "area", "interpolate": "monotone", "color": "#999999", "opacity": 0.42, "clip": true},
   "encoding": {"x": {"field": "s", "type": "quantitative", "scale": {"domain": [0.2, 0.908], "nice": false, "zero": false}, "title": "SDI"},
    "y": {"field": "Cl", "type": "quantitative", "scale": {"domain": [-380000, 3660000], "nice": false, "zero": false}, "title": "Disability-adjusted life years (DALYs)"}, "y2": {"field": "Ch"}}},
  {"data": {"name": "sm"}, "mark": {"type": "line", "interpolate": "monotone", "color": "#6b82c0", "strokeWidth": 1.3, "clip": true},
   "encoding": {"x": {"field": "s", "type": "quantitative", "scale": {"domain": [0.2, 0.908], "nice": false, "zero": false}, "title": "SDI"},
    "y": {"field": "Cy", "type": "quantitative", "scale": {"domain": [-380000, 3660000], "nice": false, "zero": false}, "title": "Disability-adjusted life years (DALYs)"}}}
 ]
},
{
 "width": 379, "height": 299,
 "title": {"text": "D", "offset": 28, "dx": -12},
 "layer": [
  {"data": {"name": "pts"},
   "mark": {"type": "point", "size": 14, "strokeWidth": 0.8, "opacity": 0.95, "clip": true},
   "encoding": {
    "x": {"field": "s", "type": "quantitative", "scale": {"domain": [0.2, 0.908], "nice": false, "zero": false}, "title": "SDI", "axis": {"values": [0.4, 0.6, 0.8], "format": ".1f"}},
    "y": {"field": "D", "type": "quantitative", "scale": {"domain": [-36, 591], "nice": false, "zero": false}, "title": "Disability-adjusted life years (DALYs)", "axis": {"values": [0, 200, 400], "format": "d"}},
    "stroke": {"field": "r", "type": "nominal"},
    "fill": {"field": "r", "type": "nominal"},
    "shape": {"field": "r", "type": "nominal"}
   }},
  {"data": {"name": "sm"}, "mark": {"type": "area", "interpolate": "monotone", "color": "#999999", "opacity": 0.42, "clip": true},
   "encoding": {"x": {"field": "s", "type": "quantitative", "scale": {"domain": [0.2, 0.908], "nice": false, "zero": false}, "title": "SDI"},
    "y": {"field": "Dl", "type": "quantitative", "scale": {"domain": [-36, 591], "nice": false, "zero": false}, "title": "Disability-adjusted life years (DALYs)"}, "y2": {"field": "Dh"}}},
  {"data": {"name": "sm"}, "mark": {"type": "line", "interpolate": "monotone", "color": "#6b82c0", "strokeWidth": 1.3, "clip": true},
   "encoding": {"x": {"field": "s", "type": "quantitative", "scale": {"domain": [0.2, 0.908], "nice": false, "zero": false}, "title": "SDI"},
    "y": {"field": "Dy", "type": "quantitative", "scale": {"domain": [-36, 591], "nice": false, "zero": false}, "title": "Disability-adjusted life years (DALYs)"}}}
 ]
},
{
 "width": 374, "height": 298,
 "title": {"text": "E", "offset": 4, "dx": -1},
 "layer": [
  {"data": {"name": "pts"},
   "mark": {"type": "point", "size": 14, "strokeWidth": 0.8, "opacity": 0.95, "clip": true},
   "encoding": {
    "x": {"field": "s", "type": "quantitative", "scale": {"domain": [0.2, 0.908], "nice": false, "zero": false}, "title": "SDI", "axis": {"values": [0.4, 0.6, 0.8], "format": ".1f"}},
    "y": {"field": "E", "type": "quantitative", "scale": {"domain": [-5830, 56250], "nice": false, "zero": false}, "title": "Death", "axis": {"values": [0, 20000, 40000], "format": ",.0f"}},
    "stroke": {"field": "r", "type": "nominal"},
    "fill": {"field": "r", "type": "nominal"},
    "shape": {"field": "r", "type": "nominal"}
   }},
  {"data": {"name": "sm"}, "mark": {"type": "area", "interpolate": "monotone", "color": "#999999", "opacity": 0.42, "clip": true},
   "encoding": {"x": {"field": "s", "type": "quantitative", "scale": {"domain": [0.2, 0.908], "nice": false, "zero": false}, "title": "SDI"},
    "y": {"field": "El", "type": "quantitative", "scale": {"domain": [-5830, 56250], "nice": false, "zero": false}, "title": "Death"}, "y2": {"field": "Eh"}}},
  {"data": {"name": "sm"}, "mark": {"type": "line", "interpolate": "monotone", "color": "#6b82c0", "strokeWidth": 1.3, "clip": true},
   "encoding": {"x": {"field": "s", "type": "quantitative", "scale": {"domain": [0.2, 0.908], "nice": false, "zero": false}, "title": "SDI"},
    "y": {"field": "Ey", "type": "quantitative", "scale": {"domain": [-5830, 56250], "nice": false, "zero": false}, "title": "Death"}}}
 ]
},
{
 "width": 379, "height": 298,
 "title": {"text": "F", "offset": 4, "dx": -14},
 "layer": [
  {"data": {"name": "pts"},
   "mark": {"type": "point", "size": 14, "strokeWidth": 0.8, "opacity": 0.95, "clip": true},
   "encoding": {
    "x": {"field": "s", "type": "quantitative", "scale": {"domain": [0.2, 0.908], "nice": false, "zero": false}, "title": "SDI", "axis": {"values": [0.4, 0.6, 0.8], "format": ".1f"}},
    "y": {"field": "F", "type": "quantitative", "scale": {"domain": [-0.61, 9.46], "nice": false, "zero": false}, "title": "Death", "axis": {"values": [0, 2.5, 5, 7.5], "format": ".1f"}},
    "stroke": {"field": "r", "type": "nominal"},
    "fill": {"field": "r", "type": "nominal"},
    "shape": {"field": "r", "type": "nominal"}
   }},
  {"data": {"name": "sm"}, "mark": {"type": "area", "interpolate": "monotone", "color": "#999999", "opacity": 0.42, "clip": true},
   "encoding": {"x": {"field": "s", "type": "quantitative", "scale": {"domain": [0.2, 0.908], "nice": false, "zero": false}, "title": "SDI"},
    "y": {"field": "Fl", "type": "quantitative", "scale": {"domain": [-0.61, 9.46], "nice": false, "zero": false}, "title": "Death"}, "y2": {"field": "Fh"}}},
  {"data": {"name": "sm"}, "mark": {"type": "line", "interpolate": "monotone", "color": "#6b82c0", "strokeWidth": 1.3, "clip": true},
   "encoding": {"x": {"field": "s", "type": "quantitative", "scale": {"domain": [0.2, 0.908], "nice": false, "zero": false}, "title": "SDI"},
    "y": {"field": "Fy", "type": "quantitative", "scale": {"domain": [-0.61, 9.46], "nice": false, "zero": false}, "title": "Death"}}}
 ]
}
]
}
